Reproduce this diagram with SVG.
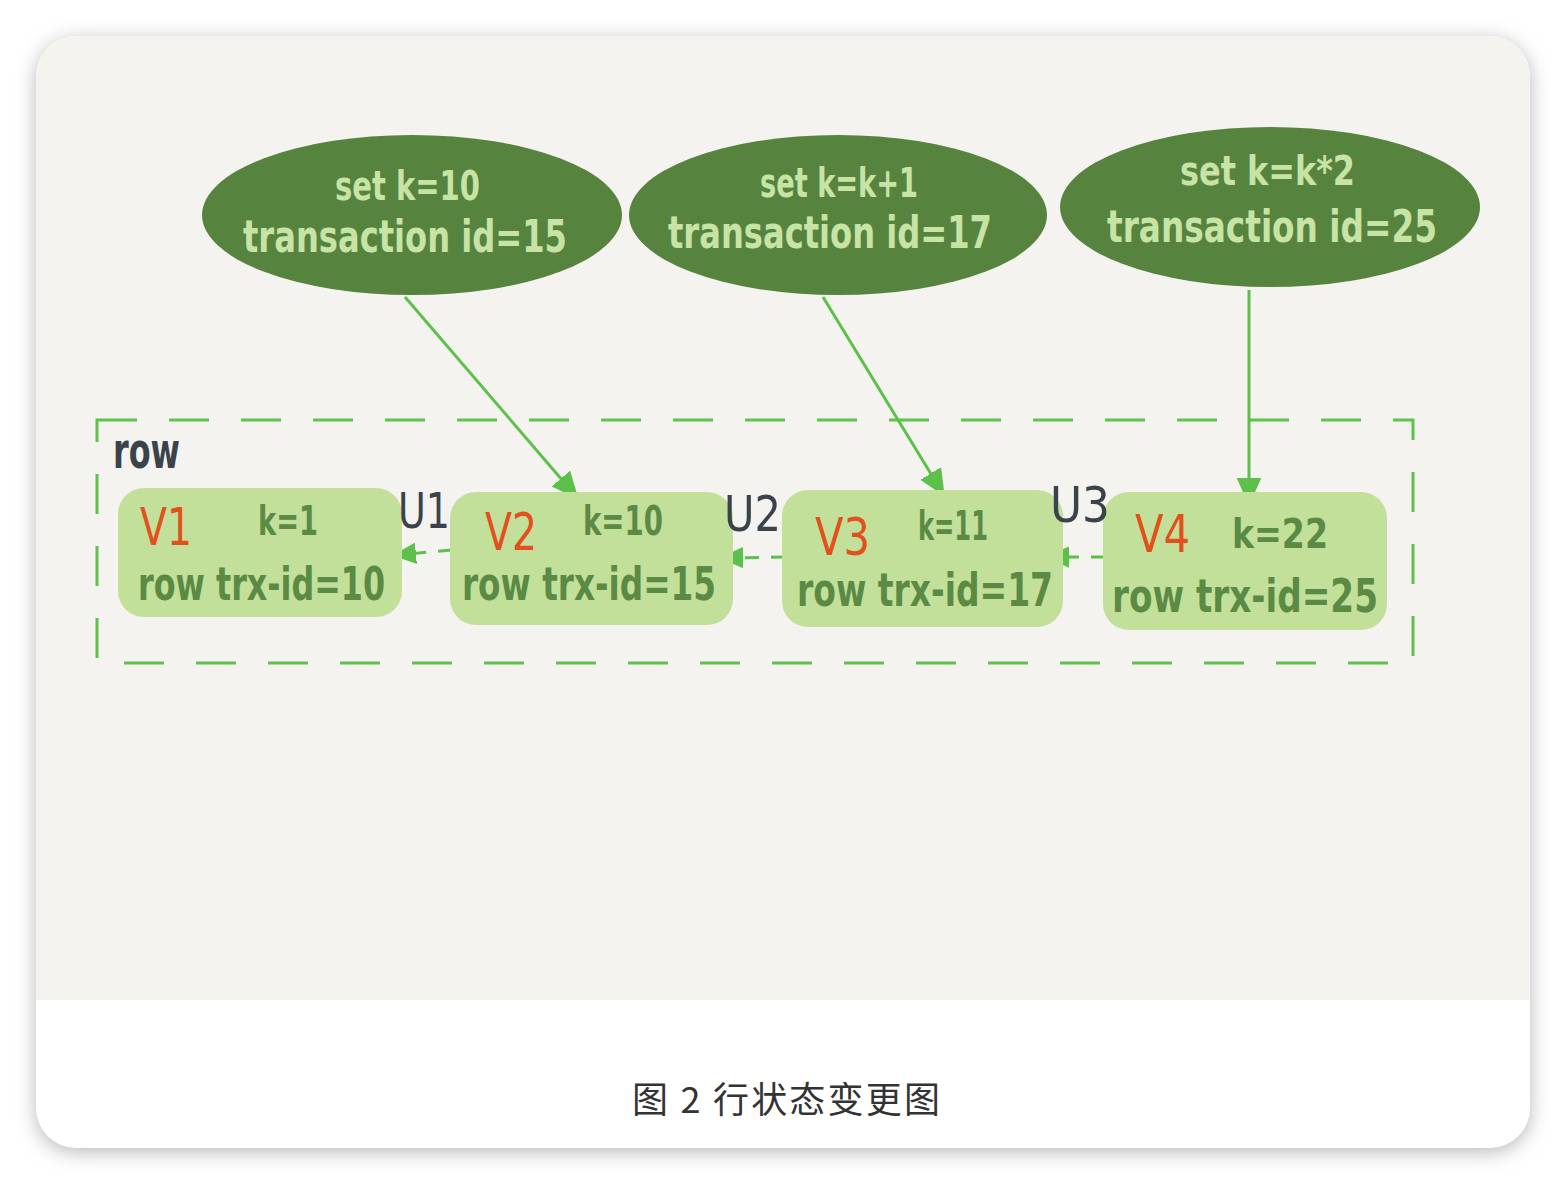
<svg xmlns="http://www.w3.org/2000/svg" width="1566" height="1184" viewBox="0 0 1566 1184">
<defs>
<filter id="sh" x="-5%" y="-5%" width="110%" height="110%"><feGaussianBlur stdDeviation="10"/></filter>
<clipPath id="cardclip"><rect x="36" y="36" width="1494" height="1112" rx="40"/></clipPath>
<marker id="ah" viewBox="0 0 10 10" refX="9" refY="5" markerWidth="8" markerHeight="8" orient="auto" markerUnits="strokeWidth"><path d="M0,0.5 L10,5 L0,9.5 Z" fill="#5cc04a" stroke="#5cc04a" stroke-linejoin="round"/></marker>
<marker id="ah2" viewBox="0 0 10 10" refX="9" refY="5" markerWidth="7" markerHeight="7" orient="auto" markerUnits="strokeWidth"><path d="M0,0.5 L10,5 L0,9.5 Z" fill="#5cc04a" stroke="#5cc04a" stroke-linejoin="round"/></marker>
<style>
.ell{fill:#56843f}
.et{font-family:"DejaVu Sans Condensed","Liberation Sans Narrow",sans-serif;font-weight:bold;fill:#c8e3a6}
.box{fill:#c2e09a}
.v{font-family:"DejaVu Sans Condensed","Liberation Sans Narrow",sans-serif;fill:#e2501c;font-size:52px}
.k{font-family:"DejaVu Sans Condensed","Liberation Sans Narrow",sans-serif;fill:#5b8a45;font-size:40px;font-weight:bold}
.r{font-family:"DejaVu Sans Condensed","Liberation Sans Narrow",sans-serif;fill:#5b8a45;font-size:46px;font-weight:bold}
.u{font-family:"DejaVu Sans Condensed","Liberation Sans Narrow",sans-serif;fill:#3b434a;font-size:50px}
.ln{stroke:#5cc04a;stroke-width:3;fill:none}
.dl{stroke:#5cc04a;stroke-width:3;fill:none;stroke-dasharray:14 12}
</style>
</defs>
<rect width="1566" height="1184" fill="#ffffff"/>
<rect x="36" y="40" width="1494" height="1112" rx="40" fill="#b8b8b8" filter="url(#sh)"/>
<g clip-path="url(#cardclip)">
<rect x="36" y="36" width="1494" height="1112" fill="#ffffff"/>
<rect x="36" y="36" width="1494" height="964" fill="#f4f3ef"/>
</g>
<rect x="97" y="420" width="1316" height="243" fill="none" stroke="#5fc24d" stroke-width="3" stroke-dasharray="40 32"/>
<g id="connectors">
<line class="ln" x1="405" y1="297" x2="575" y2="495" marker-end="url(#ah)"/>
<line class="ln" x1="823" y1="297" x2="942" y2="492" marker-end="url(#ah)"/>
<line class="ln" x1="1249" y1="290" x2="1249" y2="500" marker-end="url(#ah)"/>
<line class="dl" x1="452" y1="550" x2="397" y2="555" marker-end="url(#ah2)"/>
<line class="dl" x1="785" y1="557" x2="724" y2="558" marker-end="url(#ah2)"/>
<line class="dl" x1="1105" y1="557" x2="1050" y2="557" marker-end="url(#ah2)"/>
</g>
<g id="e1"><ellipse class="ell" cx="412" cy="215" rx="210" ry="80"/>
<text class="et" x="335" y="200" font-size="40" textLength="145" lengthAdjust="spacingAndGlyphs">set k=10</text>
<text class="et" x="243" y="252" font-size="44" textLength="324" lengthAdjust="spacingAndGlyphs">transaction id=15</text></g>
<g id="e2"><ellipse class="ell" cx="838" cy="215" rx="209" ry="80"/>
<text class="et" x="760" y="197" font-size="40" textLength="158" lengthAdjust="spacingAndGlyphs">set k=k+1</text>
<text class="et" x="668" y="248" font-size="44" textLength="324" lengthAdjust="spacingAndGlyphs">transaction id=17</text></g>
<g id="e3"><ellipse class="ell" cx="1270" cy="207" rx="210" ry="80"/>
<text class="et" x="1180" y="185" font-size="40" textLength="175" lengthAdjust="spacingAndGlyphs">set k=k*2</text>
<text class="et" x="1107" y="242" font-size="44" textLength="330" lengthAdjust="spacingAndGlyphs">transaction id=25</text></g>
<text id="rowlabel" class="u" x="113" y="468" font-size="40" font-weight="bold" textLength="67" lengthAdjust="spacingAndGlyphs">row</text>
<g id="v1"><rect class="box" x="118" y="488" width="284" height="129" rx="26"/>
<text class="v" x="140" y="545" textLength="52" lengthAdjust="spacingAndGlyphs">V1</text><text class="k" x="258" y="535" textLength="60" lengthAdjust="spacingAndGlyphs">k=1</text>
<text class="r" x="138" y="600" textLength="247" lengthAdjust="spacingAndGlyphs">row trx-id=10</text></g>
<g id="v2"><rect class="box" x="450" y="492" width="283" height="133" rx="26"/>
<text class="v" x="485" y="550" textLength="52" lengthAdjust="spacingAndGlyphs">V2</text><text class="k" x="583" y="535" textLength="80" lengthAdjust="spacingAndGlyphs">k=10</text>
<text class="r" x="462" y="600" textLength="254" lengthAdjust="spacingAndGlyphs">row trx-id=15</text></g>
<g id="v3"><rect class="box" x="782" y="490" width="281" height="137" rx="26"/>
<text class="v" x="815" y="555" textLength="55" lengthAdjust="spacingAndGlyphs">V3</text><text class="k" x="918" y="540" textLength="70" lengthAdjust="spacingAndGlyphs">k=11</text>
<text class="r" x="797" y="606" textLength="256" lengthAdjust="spacingAndGlyphs">row trx-id=17</text></g>
<g id="v4"><rect class="box" x="1103" y="492" width="284" height="138" rx="26"/>
<text class="v" x="1135" y="552" textLength="55" lengthAdjust="spacingAndGlyphs">V4</text><text class="k" x="1232" y="548" textLength="96" lengthAdjust="spacingAndGlyphs">k=22</text>
<text class="r" x="1112" y="612" textLength="266" lengthAdjust="spacingAndGlyphs">row trx-id=25</text></g>
<text class="u" x="398" y="528" textLength="52" lengthAdjust="spacingAndGlyphs">U1</text>
<text class="u" x="724" y="531" textLength="57" lengthAdjust="spacingAndGlyphs">U2</text>
<text class="u" x="1050" y="522" textLength="60" lengthAdjust="spacingAndGlyphs">U3</text>
<text x="632" y="1113" font-family="'Noto Sans CJK SC',sans-serif" font-size="36" fill="#333333" textLength="308" lengthAdjust="spacing">图 2 行状态变更图</text>
</svg>
